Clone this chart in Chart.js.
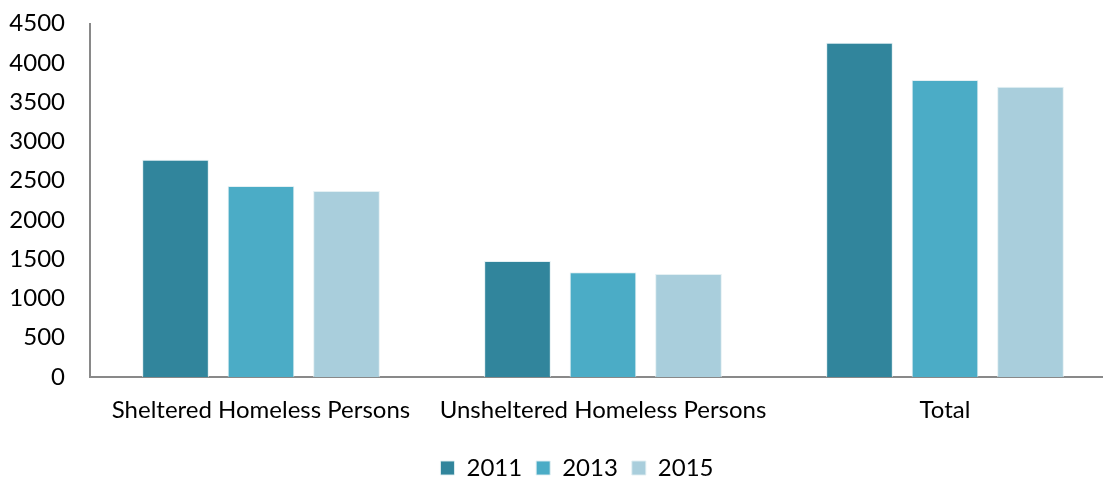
<!DOCTYPE html>
<html>
<head>
<meta charset="utf-8">
<script src="https://cdn.jsdelivr.net/npm/chart.js@4/dist/chart.umd.min.js"></script>
<style>
  html, body { margin: 0; padding: 0; background: #fff; overflow: hidden; }
  #wrap { width: 1116px; height: 490px; position: relative; }
</style>
</head>
<body>
<div id="wrap"><canvas id="myChart"></canvas></div>
<script>
const categories = ["Sheltered Homeless Persons", "Unsheltered Homeless Persons", "Total"];
const years = ["2011", "2013", "2015"];
const values2011 = [2764, 1476, 4255];
const values2013 = [2432, 1332, 3780];
const values2015 = [2369, 1311, 3695];
const yTicks = [0, 500, 1000, 1500, 2000, 2500, 3000, 3500, 4000, 4500];

const colors = ["#31859c", "#4bacc6", "#a9cedc"];
const fontFamily = "Lato, 'Open Sans', sans-serif";

// nudge the legend row a little to the right of the canvas centre
const legendShift = {
    id: "legendShift",
    afterLayout(chart) {
        chart.legend.left += 19;
        chart.legend.right += 19;
    },
};

document.addEventListener("DOMContentLoaded", () => {
    const ctx = document.getElementById("myChart").getContext("2d");
    const series = [values2011, values2013, values2015];

    new Chart(ctx, {
        type: "bar",
        data: {
            labels: categories,
            datasets: series.map((data, i) => ({
                label: years[i],
                data: data,
                backgroundColor: colors[i],
                borderColor: "rgba(225, 238, 242, 0.9)",
                borderWidth: 1,
                barPercentage: 0.78,
                categoryPercentage: 0.75,
            })),
        },
        options: {
            responsive: true,
            maintainAspectRatio: false,
            animation: false,
            layout: { padding: { left: 0, right: 0, top: 23.5, bottom: 0 } },
            plugins: {
                tooltip: { enabled: false },
                legend: {
                    position: "bottom",
                    labels: {
                        color: "#000",
                        font: { family: fontFamily, size: 24 },
                        boxWidth: 14,
                        boxHeight: 14,
                        padding: 14,
                    },
                },
            },
            scales: {
                x: {
                    grid: { display: false, drawTicks: false },
                    border: { display: true, color: "#898989", width: 2 },
                    ticks: {
                        color: "#000",
                        font: { family: fontFamily, size: 24 },
                        padding: 19,
                        maxRotation: 0,
                    },
                    afterFit: (scale) => { scale.height = 65; },
                },
                y: {
                    min: 0,
                    max: 4500,
                    afterBuildTicks: (scale) => {
                        scale.ticks = yTicks.map((v) => ({ value: v }));
                    },
                    grid: { display: false, drawTicks: false },
                    border: { display: true, color: "#898989", width: 2 },
                    ticks: {
                        color: "#000",
                        font: { family: fontFamily, size: 24 },
                        padding: 25,
                        callback: (v) => String(v),
                    },
                    afterFit: (scale) => {
                        scale.width = 90;
                        // the tick padding would otherwise push the plot top down
                        scale.paddingTop = 0;
                        scale.paddingBottom = 0;
                    },
                },
            },
        },
        plugins: [legendShift],
    });
});
</script>
</body>
</html>
